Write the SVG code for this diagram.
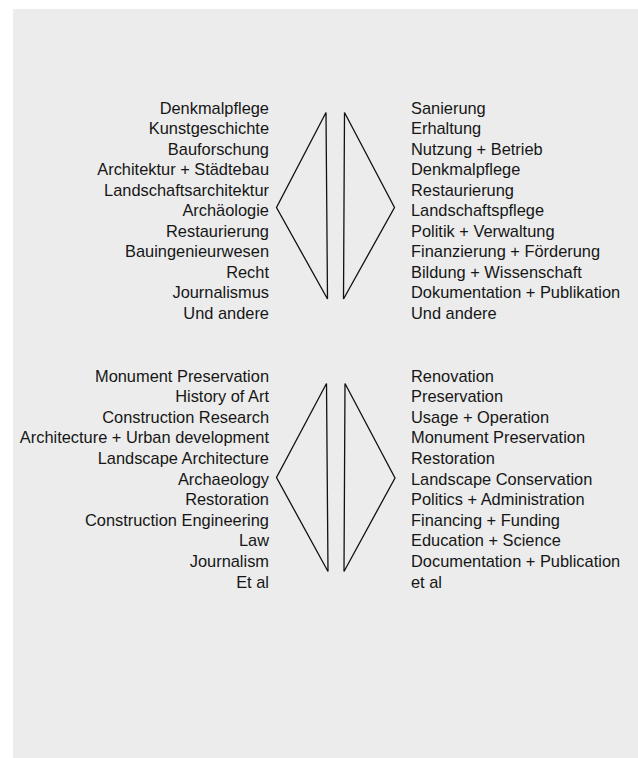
<svg xmlns="http://www.w3.org/2000/svg" width="638" height="758" viewBox="0 0 638 758">
<style>
.t{font-family:"Liberation Sans",Arial,sans-serif;font-size:16.4px;fill:#161616}
.l{text-anchor:end}
.r{text-anchor:start}
.tri{fill:none;stroke:#111;stroke-width:1.3;stroke-linejoin:miter}
</style>
<rect x="13" y="9" width="625" height="749" fill="#ececec"/>
<g id="de-left" class="t l">
<text x="269" y="113.5">Denkmalpflege</text>
<text x="269" y="134">Kunstgeschichte</text>
<text x="269" y="154.6">Bauforschung</text>
<text x="269" y="175.1">Architektur + Städtebau</text>
<text x="269" y="195.7">Landschaftsarchitektur</text>
<text x="269" y="216.2">Archäologie</text>
<text x="269" y="236.8">Restaurierung</text>
<text x="269" y="257.3">Bauingenieurwesen</text>
<text x="269" y="277.9">Recht</text>
<text x="269" y="298.4">Journalismus</text>
<text x="269" y="319">Und andere</text>
</g>
<g id="de-right" class="t r">
<text x="411" y="113.5">Sanierung</text>
<text x="411" y="134">Erhaltung</text>
<text x="411" y="154.6">Nutzung + Betrieb</text>
<text x="411" y="175.1">Denkmalpflege</text>
<text x="411" y="195.7">Restaurierung</text>
<text x="411" y="216.2">Landschaftspflege</text>
<text x="411" y="236.8">Politik + Verwaltung</text>
<text x="411" y="257.3">Finanzierung + Förderung</text>
<text x="411" y="277.9">Bildung + Wissenschaft</text>
<text x="411" y="298.4">Dokumentation + Publikation</text>
<text x="411" y="319">Und andere</text>
</g>
<g id="en-left" class="t l">
<text x="269" y="381.6">Monument Preservation</text>
<text x="269" y="402.2">History of Art</text>
<text x="269" y="422.8">Construction Research</text>
<text x="269" y="443.4">Architecture + Urban development</text>
<text x="269" y="464">Landscape Architecture</text>
<text x="269" y="484.6">Archaeology</text>
<text x="269" y="505.2">Restoration</text>
<text x="269" y="525.8">Construction Engineering</text>
<text x="269" y="546.4">Law</text>
<text x="269" y="567">Journalism</text>
<text x="269" y="587.6">Et al</text>
</g>
<g id="en-right" class="t r">
<text x="411" y="381.6">Renovation</text>
<text x="411" y="402.2">Preservation</text>
<text x="411" y="422.8">Usage + Operation</text>
<text x="411" y="443.4">Monument Preservation</text>
<text x="411" y="464">Restoration</text>
<text x="411" y="484.6">Landscape Conservation</text>
<text x="411" y="505.2">Politics + Administration</text>
<text x="411" y="525.8">Financing + Funding</text>
<text x="411" y="546.4">Education + Science</text>
<text x="411" y="567">Documentation + Publication</text>
<text x="411" y="587.6">et al</text>
</g>
<g id="connectors">
<polygon class="tri" points="326,112.5 276.5,207.5 327.5,299"/>
<polygon class="tri" points="344.5,112.5 394.5,207.5 343.5,299"/>
<polygon class="tri" points="326.5,383.5 276.5,477.5 328,571.5"/>
<polygon class="tri" points="345,383.5 395,478 344,571.5"/>
</g>
</svg>
